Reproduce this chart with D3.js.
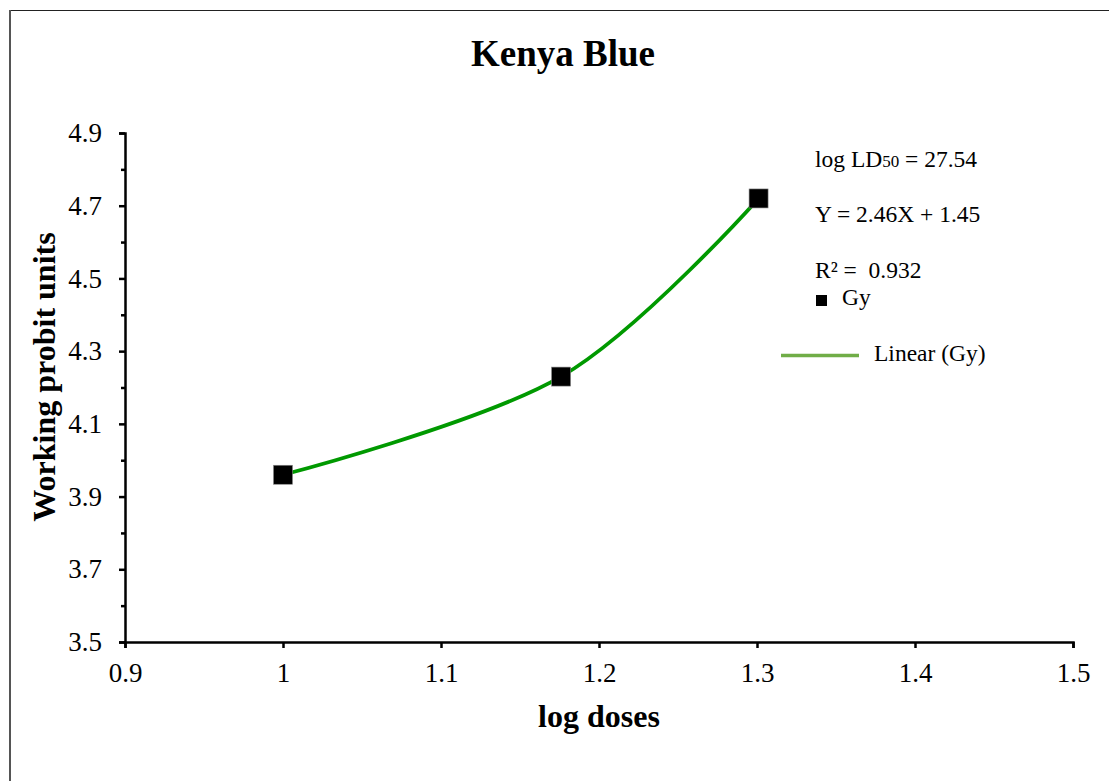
<!DOCTYPE html>
<html>
<head>
<meta charset="utf-8">
<script src="https://cdn.jsdelivr.net/npm/d3@7"></script>
<style>
    body { margin: 0; background: #fff; }
    svg text { font-family: "Liberation Serif", "Times New Roman", serif; fill: #000; }
</style>
</head>
<body>
<div id="chart"></div>
<script>
// 数据
const logDoses = [1, 1.176, 1.301]
const probits = [3.96, 4.23, 4.72]
const xTicks = [0.9, 1.0, 1.1, 1.2, 1.3, 1.4, 1.5]
const yTicks = [3.5, 3.7, 3.9, 4.1, 4.3, 4.5, 4.7, 4.9]
const yMinorTicks = [3.6, 3.8, 4.0, 4.2, 4.4, 4.6, 4.8]
const title = "Kenya Blue"
const xTitle = "log doses"
const yTitle = "Working probit units"
const seriesName = "Gy"
const trendName = "Linear (Gy)"
const notes = ["log LD", "50", " = 27.54"]
const equation = "Y = 2.46X + 1.45"
const rSquared = "R² =\u00a0 0.932"

let width = 1109, height = 781

let svg = d3.select("#chart")
    .append("svg")
    .attr("width", width)
    .attr("height", height)

// 外框 (只看得到上边和左边)
svg.append("line")
    .attr("x1", 9).attr("y1", 10.5).attr("x2", width).attr("y2", 10.5)
    .attr("stroke", "#222").attr("stroke-width", 1.2)
svg.append("line")
    .attr("x1", 10).attr("y1", 10).attr("x2", 10).attr("y2", height)
    .attr("stroke", "#555").attr("stroke-width", 2)

let x = d3.scaleLinear().domain([0.9, 1.5]).range([125, 1073])
let y = d3.scaleLinear().domain([3.5, 4.9]).range([642, 133])

// 坐标轴
let xAxis = d3.axisBottom(x)
    .tickValues(xTicks)
    .tickSize(6)
    .tickPadding(15)
    .tickFormat(d => d === 1 ? "1" : d3.format(".1f")(d))
let gx = svg.append("g")
    .attr("transform", "translate(0," + y(3.5) + ")")
    .call(xAxis)
gx.select(".domain").attr("stroke", "#000").attr("stroke-width", 2.5)
gx.selectAll(".tick line").attr("stroke", "#000").attr("stroke-width", 2.5)
gx.selectAll(".tick text")
    .style("font-size", "27px")
    .style("font-family", "Liberation Serif, serif")

let yAxis = d3.axisLeft(y)
    .tickValues(yTicks)
    .tickSize(6)
    .tickPadding(17)
    .tickFormat(d3.format(".1f"))
let gy = svg.append("g")
    .attr("transform", "translate(" + x(0.9) + ",0)")
    .call(yAxis)
gy.select(".domain").attr("stroke", "#000").attr("stroke-width", 2.5)
gy.selectAll(".tick line").attr("stroke", "#000").attr("stroke-width", 2.5)
gy.selectAll(".tick text")
    .style("font-size", "27px")
    .style("font-family", "Liberation Serif, serif")

// 次刻度
svg.append("g")
    .attr("transform", "translate(" + x(0.9) + ",0)")
    .call(d3.axisLeft(y).tickValues(yMinorTicks).tickSize(4).tickFormat(""))
    .call(g => g.select(".domain").remove())
    .selectAll(".tick line").attr("stroke", "#000").attr("stroke-width", 2.5)

// 标题
svg.append("text")
    .attr("x", 563).attr("y", 66)
    .attr("text-anchor", "middle")
    .style("font-size", "37px").attr("font-weight", "bold")
    .text(title)

svg.append("text")
    .attr("x", 599).attr("y", 727)
    .attr("text-anchor", "middle")
    .style("font-size", "32px").attr("font-weight", "bold")
    .text(xTitle)

svg.append("text")
    .attr("transform", "translate(55," + 377 + ") rotate(-90)")
    .attr("text-anchor", "middle")
    .style("font-size", "32px").attr("font-weight", "bold")
    .text(yTitle)

// 平滑曲线
let data = logDoses.map((d, i) => ({ x: d, y: probits[i] }))
let line = d3.line()
    .x(d => x(d.x))
    .y(d => y(d.y))
    .curve(d3.curveCardinal.tension(0))

svg.append("path")
    .datum(data)
    .attr("d", line)
    .attr("fill", "none")
    .attr("stroke", "#009900")
    .attr("stroke-width", 3.8)

svg.selectAll(".pt")
    .data(data)
    .enter()
    .append("rect")
    .attr("class", "pt")
    .attr("x", d => x(d.x) - 9.5)
    .attr("y", d => y(d.y) - 9.5)
    .attr("width", 19)
    .attr("height", 19)
    .attr("fill", "#000")
    .attr("stroke", "#888")
    .attr("stroke-width", 0.6)

// 注释与图例
let note = svg.append("text")
    .attr("x", 815).attr("y", 167)
    .style("font-size", "23.5px")
note.append("tspan").text(notes[0])
note.append("tspan").style("font-size", "17px").text(notes[1])
note.append("tspan").text(notes[2])

svg.append("text")
    .attr("x", 815).attr("y", 222)
    .style("font-size", "23.5px")
    .text(equation)

svg.append("text")
    .attr("x", 815).attr("y", 278)
    .style("font-size", "23.5px")
    .text(rSquared)

svg.append("rect")
    .attr("x", 816).attr("y", 295)
    .attr("width", 11).attr("height", 11)
    .attr("fill", "#000")
svg.append("text")
    .attr("x", 842).attr("y", 305)
    .style("font-size", "23.5px")
    .text(seriesName)

svg.append("line")
    .attr("x1", 781).attr("x2", 859)
    .attr("y1", 355.5).attr("y2", 355.5)
    .attr("stroke", "#70AD47")
    .attr("stroke-width", 3.5)
svg.append("text")
    .attr("x", 874).attr("y", 361)
    .style("font-size", "23.5px")
    .text(trendName)
</script>
</body>
</html>
